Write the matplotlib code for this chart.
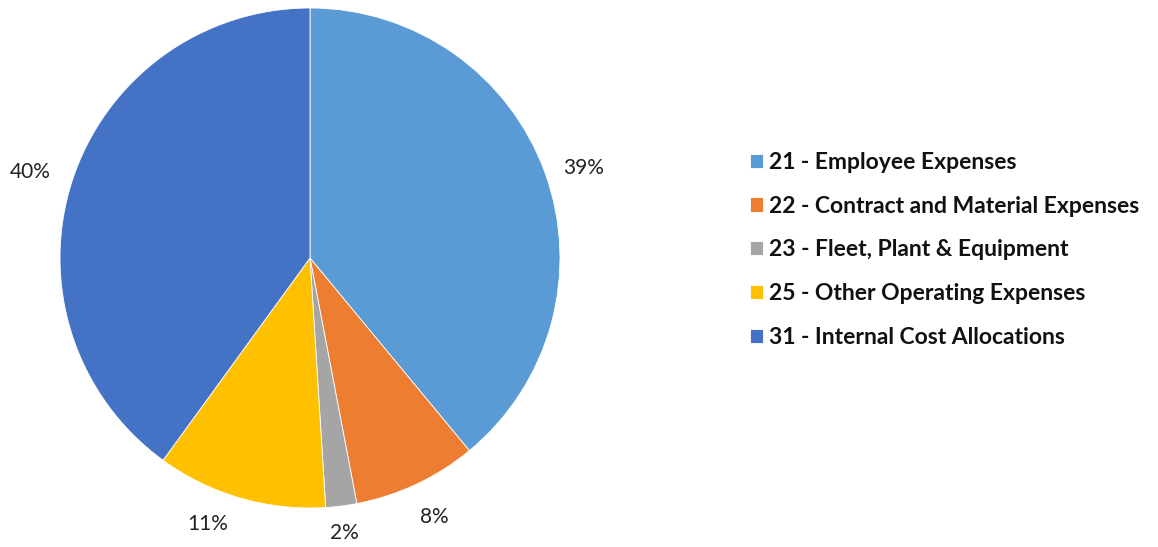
import numpy as np
import matplotlib.pyplot as plt

categories = ['21 - Employee Expenses', '22 - Contract and Material Expenses',
              '23 - Fleet, Plant & Equipment', '25 - Other Operating Expenses',
              '31 - Internal Cost Allocations']
shares = [39, 8, 2, 11, 40]
colors = ['#5B9BD5', '#ED7D31', '#A5A5A5', '#FFC000', '#4472C4']

plt.rcParams['font.family'] = ['Lato', 'DejaVu Sans']

fig = plt.figure(figsize=(11.58, 5.47), dpi=100)
ax = fig.add_axes([60 / 1158, 39 / 547, 500 / 1158, 500 / 547])

wedges, _, pcts = ax.pie(shares, colors=colors, startangle=90, counterclock=False,
                         autopct='%d%%', pctdistance=1.15, radius=1,
                         wedgeprops=dict(edgecolor='white', linewidth=0.6))

# push labels out to sit just past the rim, nudged along the arc
label_r = [1.15, 1.15, 1.11, 1.14, 1.17]
label_shift = [-1.6, 0.5, 0.0, -4.8, 1.0]
for w, t, r, d in zip(wedges, pcts, label_r, label_shift):
    mid = np.deg2rad((w.theta1 + w.theta2) / 2 + d)
    t.set_position((r * np.cos(mid), r * np.sin(mid)))
    t.set_fontsize(15)
    t.set_color('#222222')
ax.set_xlim(-1, 1)
ax.set_ylim(-1, 1)
ax.set_aspect('equal')

leg = fig.legend(wedges, categories, loc='center left',
                 bbox_to_anchor=(750 / 1158, 1 - 250 / 547), frameon=False,
                 borderaxespad=0, borderpad=0,
                 handlelength=0.57, handleheight=0.57, handletextpad=0.25,
                 labelspacing=1.0, prop=dict(size=16.5, weight='bold'))
for t in leg.get_texts():
    t.set_color('#111111')

fig.savefig('out.png', dpi=100, facecolor='white')
